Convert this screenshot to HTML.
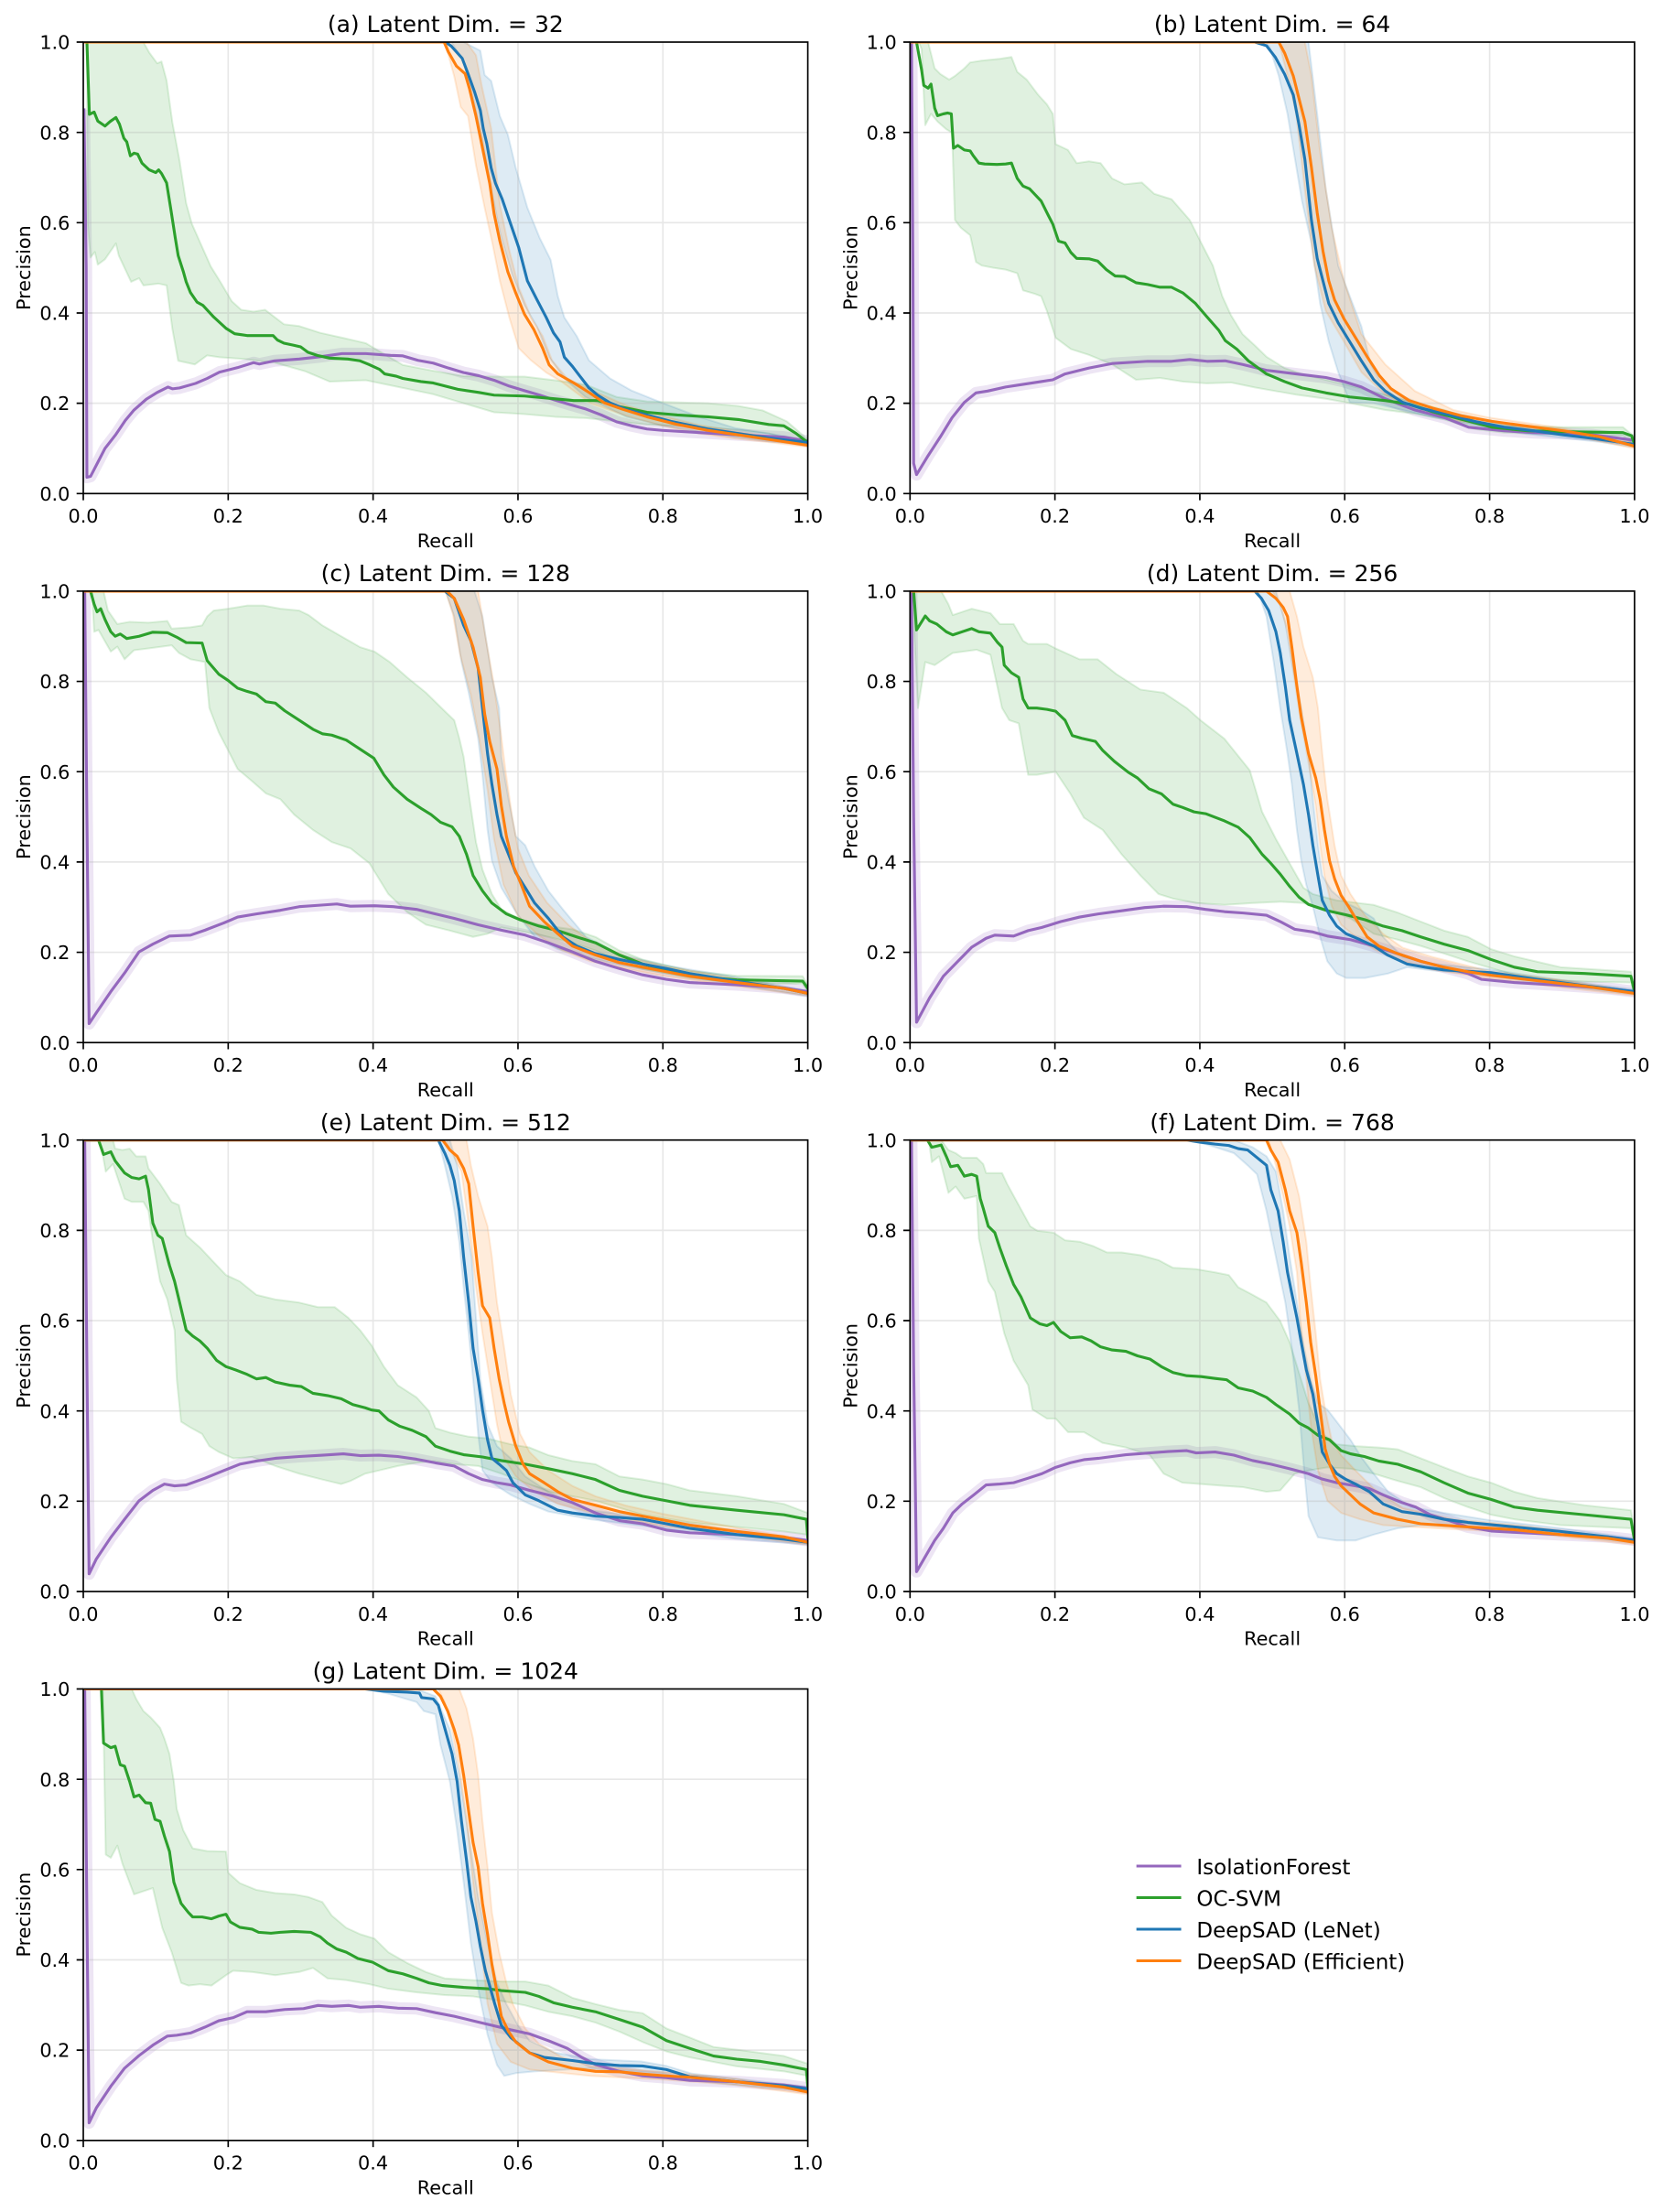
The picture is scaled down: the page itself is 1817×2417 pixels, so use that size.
<!DOCTYPE html>
<html><head><meta charset="utf-8"><style>
html,body{margin:0;padding:0;background:#fff}
svg{display:block}
text{font-family:"DejaVu Sans","Liberation Sans",sans-serif;fill:#000}
.tk{font-size:20.8px}
.tt{font-size:25px}
path{vector-effect:non-scaling-stroke}
.ln{fill:none;stroke-width:3.1px;stroke-linejoin:round;stroke-linecap:square}
.bd{stroke-width:2px;fill-opacity:.15;stroke-opacity:.15;stroke-linejoin:round}
.P{stroke:#9467bd}.G{stroke:#2ca02c}.B{stroke:#1f77b4}.O{stroke:#ff7f0e}
.bG{fill:#2ca02c;stroke:#2ca02c}.bB{fill:#1f77b4;stroke:#1f77b4}.bO{fill:#ff7f0e;stroke:#ff7f0e}
.pb{fill:none;stroke:#9467bd;stroke-opacity:.17;stroke-width:13px;stroke-linejoin:round}
</style></head><body>
<svg width="1817" height="2417" viewBox="0 0 1817 2417" xmlns="http://www.w3.org/2000/svg">
<rect x="0" y="0" width="1817" height="2417" fill="#fff"/>
<defs>
<clipPath id="cp"><rect x="0" y="0" width="791.6" height="493.3"/></clipPath>
<g id="grid" stroke="#b0b0b0" stroke-opacity="0.3" stroke-width="1.67" fill="none">
<path d="M158.32,0V493.3M316.64,0V493.3M474.96,0V493.3M633.28,0V493.3M0,98.66H791.6M0,197.32H791.6M0,295.98H791.6M0,394.64H791.6"/>
</g>
<g id="frame" stroke="#000" stroke-width="1.67" fill="none">
<rect x="0" y="0" width="791.6" height="493.3"/>
<path d="M0,493.3v7.3M158.32,493.3v7.3M316.64,493.3v7.3M474.96,493.3v7.3M633.28,493.3v7.3M791.6,493.3v7.3M0,0h-7.3M0,98.66h-7.3M0,197.32h-7.3M0,295.98h-7.3M0,394.64h-7.3M0,493.3h-7.3"/>
</g>
<path id="pa" vector-effect="non-scaling-stroke" d="M0.001,0.85 L0.004,0.5 0.005,0.036 0.01,0.038 0.02,0.069 0.03,0.1 0.045,0.131 0.058,0.162 0.07,0.185 0.087,0.209 0.102,0.224 0.117,0.236 0.123,0.232 0.133,0.234 0.155,0.244 0.171,0.255 0.188,0.269 0.213,0.279 0.235,0.29 0.243,0.287 0.264,0.294 0.298,0.298 0.327,0.303 0.357,0.31 0.39,0.31 0.424,0.306 0.441,0.305 0.462,0.295 0.483,0.289 0.504,0.278 0.525,0.268 0.546,0.261 0.567,0.251 0.588,0.238 0.609,0.228 0.63,0.218 0.651,0.207 0.672,0.197 0.694,0.187 0.715,0.174 0.736,0.159 0.757,0.15 0.778,0.143 0.799,0.14 0.841,0.136 0.904,0.13 0.967,0.125 1,0.116"/>
<path id="pbp" vector-effect="non-scaling-stroke" d="M0.002,1 L0.004,0.5 0.005,0.067 0.009,0.042 0.025,0.084 0.042,0.126 0.058,0.168 0.075,0.202 0.091,0.223 0.107,0.227 0.132,0.236 0.148,0.24 0.181,0.248 0.197,0.252 0.214,0.265 0.247,0.278 0.279,0.288 0.328,0.293 0.361,0.293 0.386,0.297 0.41,0.293 0.435,0.294 0.459,0.286 0.492,0.273 0.533,0.265 0.574,0.257 0.599,0.248 0.623,0.236 0.656,0.21 0.697,0.185 0.738,0.168 0.771,0.147 0.82,0.139 0.861,0.135 0.902,0.133 0.943,0.13 1,0.118"/>
<path id="pc" vector-effect="non-scaling-stroke" d="M0.002,1 L0.005,0.5 0.008,0.042 0.018,0.066 0.038,0.113 0.057,0.154 0.077,0.201 0.096,0.218 0.119,0.236 0.148,0.238 0.168,0.249 0.194,0.265 0.213,0.278 0.239,0.285 0.272,0.293 0.298,0.301 0.324,0.304 0.35,0.307 0.369,0.302 0.402,0.303 0.428,0.301 0.46,0.295 0.486,0.285 0.512,0.275 0.545,0.261 0.577,0.249 0.61,0.238 0.642,0.221 0.675,0.201 0.707,0.18 0.74,0.164 0.772,0.15 0.805,0.14 0.837,0.133 0.902,0.128 0.967,0.121 1,0.113"/>
<path id="pd" vector-effect="non-scaling-stroke" d="M0.002,1 L0.005,0.5 0.009,0.045 0.027,0.099 0.046,0.147 0.066,0.18 0.085,0.211 0.105,0.231 0.117,0.238 0.143,0.236 0.163,0.248 0.182,0.255 0.208,0.268 0.234,0.278 0.26,0.285 0.292,0.292 0.324,0.299 0.35,0.302 0.382,0.301 0.408,0.295 0.434,0.29 0.46,0.287 0.492,0.282 0.511,0.268 0.531,0.251 0.556,0.245 0.576,0.236 0.608,0.228 0.64,0.214 0.673,0.197 0.705,0.18 0.737,0.167 0.77,0.153 0.789,0.14 0.834,0.133 0.898,0.127 0.963,0.12 1,0.113"/>
<path id="pe" vector-effect="non-scaling-stroke" d="M0.002,1 L0.005,0.5 0.008,0.039 0.018,0.072 0.038,0.12 0.057,0.16 0.077,0.201 0.096,0.224 0.112,0.238 0.126,0.234 0.142,0.236 0.168,0.251 0.194,0.268 0.216,0.282 0.239,0.289 0.265,0.295 0.298,0.299 0.33,0.302 0.359,0.305 0.382,0.301 0.408,0.302 0.434,0.299 0.46,0.293 0.486,0.285 0.512,0.278 0.532,0.261 0.551,0.248 0.571,0.241 0.59,0.236 0.616,0.224 0.649,0.211 0.675,0.197 0.707,0.174 0.74,0.157 0.772,0.15 0.805,0.136 0.837,0.13 0.902,0.126 0.967,0.12 1,0.113"/>
<path id="pf" vector-effect="non-scaling-stroke" d="M0.002,1 L0.005,0.5 0.009,0.044 0.017,0.066 0.034,0.113 0.046,0.14 0.059,0.174 0.072,0.194 0.088,0.214 0.105,0.236 0.124,0.238 0.143,0.241 0.163,0.251 0.182,0.261 0.201,0.275 0.221,0.285 0.24,0.292 0.26,0.295 0.279,0.299 0.298,0.303 0.331,0.307 0.356,0.31 0.382,0.312 0.395,0.307 0.421,0.309 0.447,0.302 0.473,0.29 0.498,0.282 0.524,0.272 0.55,0.261 0.569,0.249 0.589,0.241 0.615,0.234 0.634,0.228 0.653,0.214 0.679,0.197 0.698,0.187 0.718,0.17 0.744,0.157 0.77,0.143 0.802,0.134 0.834,0.131 0.898,0.126 0.963,0.121 1,0.114"/>
<path id="pg" vector-effect="non-scaling-stroke" d="M0.002,1 L0.005,0.5 0.008,0.039 0.018,0.072 0.038,0.12 0.057,0.16 0.077,0.188 0.096,0.211 0.116,0.231 0.129,0.233 0.148,0.238 0.168,0.251 0.187,0.265 0.207,0.272 0.226,0.285 0.252,0.285 0.278,0.29 0.304,0.292 0.324,0.299 0.343,0.297 0.366,0.299 0.382,0.295 0.408,0.297 0.434,0.293 0.46,0.292 0.486,0.283 0.512,0.275 0.538,0.265 0.564,0.255 0.59,0.245 0.616,0.236 0.642,0.221 0.668,0.204 0.688,0.184 0.707,0.168 0.74,0.153 0.772,0.143 0.805,0.139 0.837,0.133 0.902,0.13 0.967,0.123 1,0.116"/>
</defs>

<!-- ===== Panel a ===== -->
<g transform="translate(91,46)">
<g clip-path="url(#cp)">
<g transform="matrix(791.6,0,0,-493.3,0,493.3)">
<use href="#pa" class="pb"/>
<path class="bd bG" d="M0.005,1 L0.083,1 0.091,0.977 0.102,0.953 0.108,0.957 0.115,0.915 0.123,0.822 0.133,0.736 0.142,0.643 0.15,0.597 0.163,0.55 0.176,0.503 0.188,0.472 0.205,0.426 0.218,0.407 0.235,0.403 0.251,0.407 0.264,0.391 0.277,0.375 0.298,0.371 0.327,0.356 0.361,0.344 0.39,0.333 0.411,0.313 0.441,0.285 0.483,0.272 0.525,0.26 0.567,0.259 0.609,0.259 0.651,0.251 0.694,0.241 0.736,0.214 0.778,0.204 0.862,0.2 0.904,0.194 0.938,0.184 0.971,0.16 1,0.12 L1,0.109 0.946,0.133 0.862,0.147 0.778,0.153 0.736,0.16 0.694,0.167 0.651,0.17 0.609,0.176 0.567,0.18 0.525,0.2 0.483,0.22 0.441,0.234 0.39,0.251 0.34,0.248 0.306,0.271 0.264,0.29 0.222,0.298 0.188,0.302 0.171,0.306 0.154,0.286 0.131,0.294 0.123,0.364 0.115,0.461 0.104,0.465 0.083,0.461 0.077,0.477 0.066,0.469 0.049,0.527 0.045,0.554 0.03,0.519 0.02,0.507 0.016,0.535 0.01,0.523 0.006,0.6 Z"/>
<path class="bd bB" d="M0.5,1 L0.525,1 0.548,0.981 0.554,0.927 0.563,0.914 0.575,0.836 0.586,0.795 0.597,0.721 0.613,0.633 0.63,0.566 0.645,0.518 0.655,0.437 0.664,0.39 0.681,0.349 0.698,0.295 0.727,0.255 0.757,0.228 0.799,0.201 0.85,0.17 0.9,0.145 0.95,0.132 1,0.118 L1,0.108 0.95,0.115 0.9,0.125 0.85,0.137 0.8,0.15 0.75,0.17 0.693,0.214 0.664,0.255 0.643,0.302 0.626,0.37 0.609,0.417 0.592,0.485 0.575,0.579 0.563,0.674 0.55,0.789 0.538,0.876 0.525,0.957 0.508,1 Z"/>
<path class="bd bO" d="M0.498,1 L0.529,1 0.542,0.971 0.55,0.903 0.563,0.809 0.575,0.64 0.588,0.539 0.601,0.457 0.618,0.39 0.634,0.349 0.647,0.295 0.668,0.255 0.7,0.23 0.75,0.195 0.8,0.172 0.85,0.152 0.9,0.138 0.95,0.127 1,0.112 L1,0.103 0.95,0.113 0.9,0.122 0.85,0.133 0.8,0.15 0.75,0.172 0.7,0.2 0.66,0.248 0.639,0.268 0.618,0.295 0.601,0.322 0.588,0.39 0.575,0.471 0.565,0.552 0.554,0.633 0.542,0.727 0.531,0.836 0.521,0.856 0.512,0.924 0.504,0.971 Z"/>
</g>
<use href="#grid"/>
<g transform="matrix(791.6,0,0,-493.3,0,493.3)">
<use href="#pa" class="ln P"/>
<path class="ln G" d="M0,1 L0.005,1 0.0084,0.84 0.015,0.845 0.02,0.825 0.03,0.814 0.037,0.824 0.045,0.833 0.05,0.818 0.056,0.787 0.06,0.779 0.065,0.748 0.07,0.754 0.075,0.752 0.081,0.732 0.091,0.717 0.1,0.711 0.104,0.717 0.108,0.709 0.115,0.688 0.121,0.628 0.127,0.566 0.131,0.527 0.138,0.492 0.142,0.469 0.148,0.445 0.157,0.424 0.165,0.417 0.18,0.391 0.197,0.366 0.209,0.354 0.218,0.352 0.226,0.35 0.256,0.35 0.262,0.35 0.268,0.34 0.277,0.333 0.289,0.329 0.3,0.325 0.31,0.313 0.323,0.306 0.34,0.3 0.365,0.298 0.382,0.294 0.394,0.286 0.409,0.275 0.416,0.265 0.432,0.26 0.441,0.255 0.466,0.248 0.483,0.245 0.517,0.231 0.546,0.224 0.567,0.218 0.609,0.216 0.643,0.211 0.677,0.206 0.71,0.206 0.736,0.194 0.778,0.18 0.82,0.174 0.862,0.17 0.904,0.164 0.946,0.153 0.967,0.15 0.984,0.133 1,0.113"/>
<path class="ln B" d="M0,1 L0.5,1 0.508,0.991 0.523,0.964 0.531,0.93 0.54,0.89 0.548,0.849 0.552,0.809 0.557,0.775 0.563,0.721 0.569,0.687 0.578,0.653 0.588,0.606 0.601,0.545 0.613,0.471 0.626,0.43 0.639,0.39 0.649,0.356 0.658,0.336 0.664,0.302 0.675,0.282 0.685,0.261 0.698,0.234 0.71,0.218 0.727,0.201 0.748,0.187 0.778,0.174 0.811,0.16 0.862,0.143 0.904,0.133 0.946,0.123 1,0.113"/>
<path class="ln O" d="M0,1 L0.498,1 0.504,0.978 0.515,0.947 0.527,0.93 0.533,0.897 0.542,0.836 0.548,0.789 0.554,0.742 0.561,0.687 0.567,0.62 0.575,0.559 0.586,0.491 0.597,0.444 0.609,0.397 0.622,0.363 0.634,0.322 0.643,0.285 0.655,0.265 0.677,0.245 0.698,0.224 0.719,0.201 0.744,0.187 0.778,0.17 0.82,0.153 0.862,0.14 0.904,0.13 0.946,0.12 1,0.107"/>
</g>
</g>
<use href="#frame"/>
<g class="tk" text-anchor="end"><text x="-14.6" y="7.6">1.0</text><text x="-14.6" y="106.3">0.8</text><text x="-14.6" y="204.9">0.6</text><text x="-14.6" y="303.6">0.4</text><text x="-14.6" y="402.2">0.2</text><text x="-14.6" y="500.9">0.0</text></g>
<g class="tk" text-anchor="middle"><text x="0" y="525.1">0.0</text><text x="158.3" y="525.1">0.2</text><text x="316.6" y="525.1">0.4</text><text x="475" y="525.1">0.6</text><text x="633.3" y="525.1">0.8</text><text x="791.6" y="525.1">1.0</text>
<text x="395.8" y="551.9">Recall</text><text transform="translate(-58,246.65) rotate(-90)">Precision</text></g>
<text class="tt" x="395.8" y="-10.8" text-anchor="middle">(a) Latent Dim. = 32</text>
</g>

<!-- ===== Panel b ===== -->
<g transform="translate(994.3,46)">
<g clip-path="url(#cp)">
<g transform="matrix(791.6,0,0,-493.3,0,493.3)">
<use href="#pbp" class="pb"/>
<path class="bd bG" d="M0.009,1 L0.025,1 0.034,0.942 0.042,0.929 0.054,0.917 0.062,0.925 0.075,0.942 0.083,0.955 0.099,0.959 0.124,0.963 0.14,0.967 0.148,0.934 0.161,0.917 0.177,0.883 0.189,0.862 0.197,0.841 0.201,0.774 0.218,0.761 0.23,0.732 0.247,0.736 0.263,0.732 0.279,0.698 0.296,0.685 0.32,0.689 0.337,0.664 0.361,0.652 0.386,0.606 0.402,0.555 0.418,0.505 0.431,0.437 0.443,0.395 0.459,0.353 0.476,0.328 0.492,0.303 0.517,0.278 0.541,0.265 0.574,0.252 0.615,0.236 0.656,0.219 0.697,0.202 0.738,0.185 0.779,0.16 0.82,0.151 0.902,0.147 0.984,0.147 1,0.126 L1,0.105 0.984,0.128 0.902,0.13 0.82,0.135 0.779,0.143 0.738,0.164 0.697,0.177 0.656,0.185 0.615,0.198 0.574,0.21 0.533,0.219 0.476,0.235 0.443,0.246 0.41,0.244 0.377,0.248 0.345,0.256 0.312,0.252 0.279,0.286 0.247,0.307 0.222,0.32 0.201,0.345 0.189,0.404 0.181,0.437 0.173,0.442 0.156,0.45 0.148,0.488 0.132,0.496 0.115,0.5 0.099,0.505 0.091,0.513 0.083,0.572 0.07,0.589 0.062,0.606 0.058,0.799 0.05,0.807 0.038,0.824 0.029,0.841 0.021,0.816 0.016,0.984 0.012,1 Z"/>
<path class="bd bB" d="M0.48,1 L0.55,1 0.562,0.841 0.574,0.673 0.591,0.505 0.607,0.437 0.623,0.37 0.636,0.286 0.648,0.252 0.68,0.215 0.72,0.19 0.78,0.168 0.85,0.147 0.95,0.13 1,0.115 L1,0.103 0.95,0.115 0.85,0.132 0.78,0.152 0.72,0.17 0.68,0.185 0.64,0.2 0.607,0.202 0.591,0.269 0.578,0.336 0.566,0.421 0.554,0.555 0.541,0.648 0.521,0.841 0.509,0.925 0.496,0.99 0.49,1 Z"/>
<path class="bd bO" d="M0.51,1 L0.545,1 0.554,0.925 0.566,0.757 0.582,0.589 0.599,0.471 0.623,0.353 0.656,0.286 0.697,0.227 0.75,0.185 0.8,0.168 0.9,0.145 1,0.112 L1,0.1 0.9,0.132 0.8,0.152 0.75,0.162 0.7,0.185 0.656,0.219 0.623,0.269 0.599,0.336 0.574,0.404 0.558,0.505 0.545,0.673 0.533,0.841 0.521,0.925 0.509,1 Z"/>
</g>
<use href="#grid"/>
<g transform="matrix(791.6,0,0,-493.3,0,493.3)">
<use href="#pbp" class="ln P"/>
<path class="ln G" d="M0,1 L0.009,1 0.016,0.938 0.019,0.904 0.025,0.898 0.029,0.907 0.034,0.854 0.038,0.837 0.046,0.841 0.052,0.843 0.057,0.841 0.06,0.765 0.066,0.771 0.075,0.761 0.083,0.759 0.087,0.749 0.095,0.732 0.103,0.73 0.12,0.729 0.132,0.73 0.14,0.732 0.148,0.698 0.156,0.681 0.165,0.675 0.181,0.648 0.189,0.622 0.197,0.597 0.205,0.559 0.214,0.555 0.222,0.534 0.23,0.521 0.247,0.52 0.259,0.515 0.271,0.496 0.283,0.482 0.296,0.481 0.312,0.467 0.328,0.463 0.345,0.457 0.361,0.457 0.377,0.444 0.394,0.421 0.41,0.391 0.426,0.362 0.435,0.339 0.451,0.32 0.467,0.294 0.492,0.265 0.517,0.248 0.541,0.234 0.574,0.223 0.607,0.214 0.656,0.206 0.689,0.198 0.722,0.181 0.762,0.164 0.803,0.147 0.853,0.139 0.902,0.137 0.943,0.136 0.984,0.135 0.996,0.128 1,0.109"/>
<path class="ln B" d="M0,1 L0.476,1 0.492,0.992 0.504,0.967 0.517,0.929 0.529,0.883 0.537,0.816 0.545,0.74 0.554,0.606 0.562,0.521 0.57,0.471 0.578,0.421 0.591,0.378 0.607,0.336 0.623,0.294 0.64,0.252 0.656,0.227 0.68,0.202 0.705,0.189 0.738,0.177 0.779,0.16 0.82,0.147 0.861,0.139 0.902,0.13 0.943,0.122 1,0.109"/>
<path class="ln O" d="M0,1 L0.509,1 0.517,0.976 0.529,0.925 0.537,0.874 0.545,0.824 0.554,0.723 0.562,0.622 0.57,0.537 0.578,0.471 0.586,0.429 0.599,0.387 0.615,0.345 0.631,0.303 0.648,0.261 0.664,0.232 0.689,0.206 0.722,0.189 0.762,0.172 0.803,0.16 0.844,0.151 0.902,0.139 0.951,0.126 1,0.105"/>
</g>
</g>
<use href="#frame"/>
<g class="tk" text-anchor="end"><text x="-14.6" y="7.6">1.0</text><text x="-14.6" y="106.3">0.8</text><text x="-14.6" y="204.9">0.6</text><text x="-14.6" y="303.6">0.4</text><text x="-14.6" y="402.2">0.2</text><text x="-14.6" y="500.9">0.0</text></g>
<g class="tk" text-anchor="middle"><text x="0" y="525.1">0.0</text><text x="158.3" y="525.1">0.2</text><text x="316.6" y="525.1">0.4</text><text x="475" y="525.1">0.6</text><text x="633.3" y="525.1">0.8</text><text x="791.6" y="525.1">1.0</text>
<text x="395.8" y="551.9">Recall</text><text transform="translate(-58,246.65) rotate(-90)">Precision</text></g>
<text class="tt" x="395.8" y="-10.8" text-anchor="middle">(b) Latent Dim. = 64</text>
</g>

<!-- ===== Panel c ===== -->
<g transform="translate(91,645.9)">
<g clip-path="url(#cp)">
<g transform="matrix(791.6,0,0,-493.3,0,493.3)">
<use href="#pc" class="pb"/>
<path class="bd bG" d="M0.01,1 L0.028,1 0.034,0.957 0.047,0.927 0.064,0.932 0.09,0.93 0.116,0.934 0.122,0.917 0.148,0.92 0.164,0.924 0.171,0.944 0.18,0.957 0.2,0.961 0.226,0.968 0.249,0.968 0.272,0.961 0.298,0.957 0.311,0.947 0.33,0.924 0.356,0.9 0.382,0.876 0.402,0.866 0.423,0.843 0.447,0.809 0.473,0.775 0.499,0.734 0.512,0.714 0.519,0.674 0.525,0.633 0.532,0.552 0.542,0.444 0.551,0.383 0.564,0.329 0.577,0.295 0.61,0.268 0.642,0.258 0.675,0.251 0.707,0.234 0.74,0.204 0.772,0.184 0.837,0.159 0.902,0.148 0.993,0.147 1,0.127 L1,0.113 0.993,0.13 0.902,0.133 0.837,0.143 0.772,0.163 0.74,0.18 0.707,0.204 0.675,0.221 0.642,0.234 0.61,0.245 0.577,0.255 0.558,0.241 0.538,0.234 0.506,0.248 0.473,0.261 0.447,0.289 0.421,0.329 0.408,0.363 0.395,0.397 0.369,0.43 0.343,0.444 0.317,0.471 0.291,0.505 0.272,0.539 0.252,0.552 0.233,0.579 0.213,0.606 0.2,0.647 0.187,0.687 0.174,0.741 0.168,0.843 0.148,0.849 0.132,0.863 0.122,0.88 0.09,0.873 0.07,0.869 0.057,0.849 0.047,0.877 0.038,0.866 0.021,0.914 0.015,0.91 0.012,1 Z"/>
<path class="bd bB" d="M0.5,1 L0.54,1 0.551,0.944 0.564,0.809 0.574,0.741 0.577,0.633 0.587,0.539 0.597,0.457 0.61,0.437 0.623,0.39 0.642,0.336 0.662,0.295 0.694,0.234 0.74,0.195 0.8,0.172 0.9,0.145 1,0.115 L1,0.103 0.9,0.128 0.8,0.155 0.74,0.172 0.694,0.19 0.655,0.207 0.623,0.234 0.597,0.289 0.577,0.343 0.564,0.403 0.558,0.471 0.551,0.593 0.545,0.674 0.532,0.775 0.522,0.843 0.512,0.944 Z"/>
<path class="bd bO" d="M0.505,1 L0.545,1 0.555,0.9 0.566,0.8 0.576,0.69 0.583,0.6 0.592,0.5 0.6,0.43 0.615,0.37 0.64,0.31 0.67,0.26 0.7,0.225 0.75,0.19 0.8,0.17 0.9,0.142 1,0.113 L1,0.104 0.9,0.125 0.8,0.148 0.75,0.163 0.7,0.18 0.66,0.205 0.63,0.235 0.6,0.28 0.58,0.35 0.567,0.45 0.558,0.56 0.548,0.66 0.535,0.77 0.52,0.86 0.51,0.95 0.5,1 Z"/>
</g>
<use href="#grid"/>
<g transform="matrix(791.6,0,0,-493.3,0,493.3)">
<use href="#pc" class="ln P"/>
<path class="ln G" d="M0,1 L0.01,1 0.015,0.971 0.019,0.954 0.024,0.961 0.03,0.937 0.038,0.91 0.044,0.9 0.051,0.905 0.06,0.895 0.077,0.9 0.096,0.909 0.116,0.908 0.129,0.898 0.142,0.886 0.164,0.885 0.171,0.846 0.187,0.816 0.2,0.802 0.213,0.785 0.226,0.778 0.239,0.772 0.252,0.755 0.265,0.752 0.278,0.735 0.298,0.714 0.317,0.694 0.33,0.684 0.343,0.681 0.363,0.67 0.382,0.65 0.401,0.63 0.415,0.593 0.428,0.566 0.447,0.539 0.467,0.518 0.48,0.505 0.493,0.488 0.509,0.478 0.519,0.457 0.529,0.417 0.538,0.37 0.551,0.336 0.564,0.309 0.584,0.285 0.603,0.272 0.629,0.258 0.655,0.248 0.681,0.234 0.707,0.221 0.74,0.194 0.772,0.174 0.805,0.161 0.837,0.15 0.87,0.143 0.902,0.139 0.935,0.138 0.993,0.136 1,0.12"/>
<path class="ln B" d="M0,1 L0.499,1 0.512,0.984 0.525,0.924 0.535,0.89 0.545,0.829 0.551,0.741 0.558,0.64 0.564,0.572 0.571,0.505 0.577,0.457 0.587,0.417 0.597,0.376 0.61,0.343 0.623,0.309 0.642,0.275 0.662,0.234 0.681,0.214 0.707,0.197 0.74,0.184 0.772,0.174 0.805,0.164 0.837,0.153 0.902,0.136 0.967,0.12 1,0.109"/>
<path class="ln O" d="M0,1 L0.502,1 0.512,0.984 0.525,0.937 0.538,0.876 0.548,0.809 0.554,0.728 0.561,0.667 0.571,0.606 0.577,0.525 0.584,0.457 0.594,0.39 0.603,0.356 0.616,0.302 0.636,0.268 0.655,0.241 0.675,0.214 0.707,0.194 0.74,0.177 0.772,0.167 0.805,0.157 0.837,0.147 0.902,0.133 0.967,0.12 1,0.109"/>
</g>
</g>
<use href="#frame"/>
<g class="tk" text-anchor="end"><text x="-14.6" y="7.6">1.0</text><text x="-14.6" y="106.3">0.8</text><text x="-14.6" y="204.9">0.6</text><text x="-14.6" y="303.6">0.4</text><text x="-14.6" y="402.2">0.2</text><text x="-14.6" y="500.9">0.0</text></g>
<g class="tk" text-anchor="middle"><text x="0" y="525.1">0.0</text><text x="158.3" y="525.1">0.2</text><text x="316.6" y="525.1">0.4</text><text x="475" y="525.1">0.6</text><text x="633.3" y="525.1">0.8</text><text x="791.6" y="525.1">1.0</text>
<text x="395.8" y="551.9">Recall</text><text transform="translate(-58,246.65) rotate(-90)">Precision</text></g>
<text class="tt" x="395.8" y="-10.8" text-anchor="middle">(c) Latent Dim. = 128</text>
</g>

<!-- ===== Panel d ===== -->
<g transform="translate(994.3,645.9)">
<g clip-path="url(#cp)">
<g transform="matrix(791.6,0,0,-493.3,0,493.3)">
<use href="#pd" class="pb"/>
<path class="bd bG" d="M0.005,1 L0.043,1 0.053,0.971 0.059,0.947 0.085,0.961 0.111,0.951 0.124,0.927 0.143,0.927 0.156,0.89 0.163,0.883 0.189,0.883 0.201,0.873 0.234,0.849 0.259,0.849 0.285,0.816 0.318,0.782 0.35,0.775 0.382,0.741 0.401,0.714 0.434,0.673 0.469,0.603 0.486,0.511 0.505,0.451 0.524,0.397 0.543,0.343 0.556,0.329 0.589,0.315 0.64,0.305 0.673,0.288 0.705,0.268 0.737,0.248 0.77,0.234 0.802,0.207 0.834,0.191 0.898,0.167 0.995,0.157 1,0.126 L1,0.106 0.995,0.133 0.898,0.136 0.834,0.15 0.77,0.18 0.705,0.214 0.673,0.228 0.64,0.241 0.608,0.275 0.576,0.295 0.543,0.309 0.511,0.312 0.473,0.309 0.434,0.305 0.395,0.309 0.363,0.319 0.343,0.329 0.318,0.37 0.292,0.417 0.266,0.471 0.24,0.498 0.221,0.552 0.201,0.6 0.175,0.593 0.163,0.593 0.15,0.707 0.137,0.714 0.127,0.741 0.111,0.859 0.092,0.87 0.059,0.863 0.034,0.836 0.021,0.843 0.011,0.741 0.006,0.9 Z"/>
<path class="bd bB" d="M0.48,1 L0.505,1 0.518,0.93 0.527,0.843 0.54,0.741 0.55,0.64 0.556,0.539 0.563,0.437 0.569,0.37 0.582,0.336 0.602,0.309 0.621,0.295 0.64,0.275 0.653,0.234 0.68,0.19 0.72,0.175 0.8,0.162 0.9,0.138 1,0.118 L1,0.107 0.9,0.125 0.8,0.148 0.72,0.16 0.686,0.167 0.66,0.153 0.628,0.143 0.602,0.143 0.589,0.153 0.576,0.18 0.566,0.234 0.556,0.302 0.547,0.349 0.54,0.403 0.534,0.471 0.527,0.572 0.521,0.64 0.511,0.741 0.502,0.843 0.492,0.944 Z"/>
<path class="bd bO" d="M0.495,1 L0.524,1 0.534,0.944 0.543,0.876 0.556,0.809 0.563,0.741 0.569,0.64 0.576,0.539 0.586,0.437 0.595,0.37 0.608,0.329 0.628,0.282 0.653,0.241 0.68,0.21 0.72,0.19 0.8,0.158 0.9,0.138 1,0.114 L1,0.104 0.9,0.122 0.8,0.142 0.72,0.162 0.68,0.18 0.64,0.207 0.615,0.234 0.595,0.261 0.582,0.302 0.572,0.37 0.566,0.437 0.56,0.525 0.55,0.619 0.54,0.707 0.53,0.809 0.521,0.91 0.511,0.971 0.5,1 Z"/>
</g>
<use href="#grid"/>
<g transform="matrix(791.6,0,0,-493.3,0,493.3)">
<use href="#pd" class="ln P"/>
<path class="ln G" d="M0,1 L0.005,1 0.009,0.914 0.021,0.945 0.027,0.934 0.037,0.927 0.05,0.91 0.059,0.903 0.072,0.91 0.085,0.917 0.095,0.91 0.111,0.907 0.121,0.886 0.127,0.876 0.13,0.836 0.14,0.819 0.15,0.809 0.156,0.761 0.163,0.741 0.175,0.741 0.189,0.738 0.201,0.734 0.214,0.714 0.224,0.68 0.237,0.674 0.256,0.667 0.266,0.647 0.282,0.623 0.301,0.599 0.314,0.586 0.33,0.562 0.347,0.551 0.363,0.528 0.376,0.521 0.392,0.511 0.408,0.507 0.434,0.491 0.453,0.477 0.469,0.454 0.486,0.417 0.498,0.397 0.511,0.373 0.524,0.346 0.537,0.322 0.55,0.306 0.576,0.292 0.602,0.283 0.628,0.272 0.653,0.258 0.679,0.248 0.705,0.234 0.737,0.218 0.77,0.204 0.802,0.184 0.834,0.167 0.866,0.157 0.931,0.153 0.995,0.147 1,0.113"/>
<path class="ln B" d="M0,1 L0.476,1 0.485,0.984 0.495,0.957 0.505,0.91 0.511,0.863 0.518,0.789 0.524,0.714 0.534,0.64 0.543,0.572 0.55,0.505 0.556,0.437 0.563,0.37 0.569,0.315 0.579,0.282 0.589,0.258 0.602,0.241 0.621,0.228 0.64,0.214 0.659,0.194 0.686,0.174 0.711,0.167 0.737,0.161 0.802,0.155 0.866,0.14 0.931,0.126 1,0.113"/>
<path class="ln O" d="M0,1 L0.492,1 0.505,0.984 0.515,0.964 0.521,0.944 0.527,0.876 0.534,0.789 0.54,0.721 0.55,0.64 0.56,0.586 0.566,0.539 0.572,0.471 0.579,0.403 0.586,0.363 0.595,0.326 0.605,0.302 0.615,0.275 0.631,0.234 0.647,0.214 0.673,0.197 0.705,0.18 0.737,0.167 0.77,0.157 0.802,0.149 0.866,0.137 0.931,0.125 1,0.109"/>
</g>
</g>
<use href="#frame"/>
<g class="tk" text-anchor="end"><text x="-14.6" y="7.6">1.0</text><text x="-14.6" y="106.3">0.8</text><text x="-14.6" y="204.9">0.6</text><text x="-14.6" y="303.6">0.4</text><text x="-14.6" y="402.2">0.2</text><text x="-14.6" y="500.9">0.0</text></g>
<g class="tk" text-anchor="middle"><text x="0" y="525.1">0.0</text><text x="158.3" y="525.1">0.2</text><text x="316.6" y="525.1">0.4</text><text x="475" y="525.1">0.6</text><text x="633.3" y="525.1">0.8</text><text x="791.6" y="525.1">1.0</text>
<text x="395.8" y="551.9">Recall</text><text transform="translate(-58,246.65) rotate(-90)">Precision</text></g>
<text class="tt" x="395.8" y="-10.8" text-anchor="middle">(d) Latent Dim. = 256</text>
</g>

<!-- ===== Panel e ===== -->
<g transform="translate(91,1245.7)">
<g clip-path="url(#cp)">
<g transform="matrix(791.6,0,0,-493.3,0,493.3)">
<use href="#pe" class="pb"/>
<path class="bd bG" d="M0.021,1 L0.041,1 0.044,0.981 0.054,0.978 0.064,0.981 0.073,0.964 0.086,0.964 0.09,0.937 0.106,0.903 0.122,0.863 0.132,0.856 0.142,0.789 0.161,0.762 0.181,0.728 0.197,0.701 0.216,0.687 0.239,0.657 0.265,0.647 0.298,0.64 0.324,0.63 0.347,0.63 0.366,0.606 0.382,0.579 0.398,0.545 0.415,0.498 0.434,0.457 0.46,0.43 0.477,0.4 0.486,0.362 0.506,0.352 0.532,0.343 0.558,0.339 0.59,0.326 0.616,0.319 0.642,0.302 0.675,0.289 0.707,0.282 0.74,0.255 0.772,0.248 0.805,0.238 0.837,0.224 0.902,0.211 0.967,0.194 1,0.174 L1,0.126 0.967,0.133 0.902,0.143 0.837,0.153 0.772,0.17 0.707,0.201 0.675,0.211 0.642,0.221 0.61,0.241 0.577,0.261 0.545,0.278 0.512,0.282 0.486,0.289 0.46,0.285 0.434,0.278 0.408,0.268 0.389,0.261 0.369,0.245 0.356,0.238 0.33,0.248 0.298,0.261 0.265,0.278 0.233,0.298 0.207,0.295 0.187,0.309 0.174,0.322 0.164,0.349 0.148,0.363 0.135,0.376 0.129,0.471 0.126,0.579 0.116,0.647 0.106,0.687 0.096,0.775 0.09,0.843 0.083,0.863 0.067,0.863 0.057,0.87 0.041,0.947 0.031,0.93 0.025,0.984 0.022,1 Z"/>
<path class="bd bB" d="M0.49,1 L0.506,1 0.516,0.944 0.525,0.843 0.536,0.741 0.542,0.606 0.548,0.471 0.558,0.37 0.571,0.322 0.59,0.295 0.61,0.255 0.642,0.221 0.7,0.18 0.8,0.16 0.9,0.135 1,0.114 L1,0.104 0.9,0.117 0.8,0.14 0.7,0.16 0.642,0.177 0.616,0.194 0.59,0.214 0.564,0.241 0.551,0.268 0.545,0.349 0.542,0.403 0.538,0.471 0.532,0.572 0.525,0.674 0.519,0.775 0.509,0.876 0.499,0.944 Z"/>
<path class="bd bO" d="M0.5,1 L0.529,1 0.535,0.944 0.545,0.876 0.558,0.809 0.564,0.741 0.571,0.64 0.581,0.539 0.59,0.437 0.603,0.349 0.616,0.309 0.642,0.268 0.675,0.234 0.707,0.211 0.75,0.19 0.8,0.172 0.9,0.142 1,0.114 L1,0.104 0.9,0.125 0.8,0.145 0.75,0.16 0.7,0.175 0.655,0.194 0.623,0.221 0.597,0.255 0.581,0.295 0.571,0.37 0.561,0.471 0.551,0.572 0.542,0.674 0.532,0.809 0.522,0.93 0.509,0.971 Z"/>
</g>
<use href="#grid"/>
<g transform="matrix(791.6,0,0,-493.3,0,493.3)">
<use href="#pe" class="ln P"/>
<path class="ln G" d="M0,1 L0.021,1 0.028,0.968 0.038,0.974 0.044,0.954 0.057,0.927 0.067,0.917 0.077,0.914 0.086,0.92 0.09,0.89 0.096,0.816 0.103,0.789 0.109,0.782 0.119,0.722 0.126,0.687 0.132,0.647 0.142,0.579 0.151,0.566 0.161,0.555 0.171,0.539 0.184,0.512 0.197,0.498 0.21,0.491 0.226,0.481 0.239,0.471 0.252,0.474 0.265,0.464 0.285,0.457 0.301,0.454 0.317,0.439 0.337,0.434 0.356,0.427 0.372,0.414 0.389,0.407 0.398,0.402 0.408,0.4 0.421,0.38 0.437,0.366 0.454,0.357 0.473,0.343 0.486,0.322 0.506,0.311 0.525,0.303 0.551,0.298 0.577,0.29 0.61,0.282 0.642,0.272 0.675,0.261 0.707,0.248 0.74,0.224 0.772,0.211 0.805,0.201 0.837,0.191 0.902,0.18 0.967,0.17 0.998,0.16 1,0.12"/>
<path class="ln B" d="M0,1 L0.49,1 0.499,0.971 0.506,0.944 0.512,0.91 0.519,0.843 0.525,0.741 0.532,0.64 0.538,0.539 0.545,0.471 0.551,0.403 0.558,0.336 0.564,0.295 0.574,0.282 0.584,0.268 0.593,0.241 0.61,0.214 0.629,0.201 0.655,0.18 0.675,0.174 0.707,0.167 0.74,0.164 0.772,0.16 0.805,0.15 0.837,0.14 0.902,0.126 0.967,0.116 1,0.109"/>
<path class="ln O" d="M0,1 L0.496,1 0.506,0.978 0.516,0.964 0.525,0.937 0.532,0.903 0.538,0.809 0.545,0.707 0.551,0.633 0.561,0.606 0.567,0.539 0.574,0.471 0.581,0.417 0.587,0.376 0.597,0.322 0.607,0.282 0.616,0.261 0.636,0.241 0.655,0.221 0.675,0.204 0.707,0.191 0.74,0.177 0.772,0.167 0.805,0.157 0.837,0.147 0.902,0.133 0.967,0.121 1,0.109"/>
</g>
</g>
<use href="#frame"/>
<g class="tk" text-anchor="end"><text x="-14.6" y="7.6">1.0</text><text x="-14.6" y="106.3">0.8</text><text x="-14.6" y="204.9">0.6</text><text x="-14.6" y="303.6">0.4</text><text x="-14.6" y="402.2">0.2</text><text x="-14.6" y="500.9">0.0</text></g>
<g class="tk" text-anchor="middle"><text x="0" y="525.1">0.0</text><text x="158.3" y="525.1">0.2</text><text x="316.6" y="525.1">0.4</text><text x="475" y="525.1">0.6</text><text x="633.3" y="525.1">0.8</text><text x="791.6" y="525.1">1.0</text>
<text x="395.8" y="551.9">Recall</text><text transform="translate(-58,246.65) rotate(-90)">Precision</text></g>
<text class="tt" x="395.8" y="-10.8" text-anchor="middle">(e) Latent Dim. = 512</text>
</g>

<!-- ===== Panel f ===== -->
<g transform="translate(994.3,1245.7)">
<g clip-path="url(#cp)">
<g transform="matrix(791.6,0,0,-493.3,0,493.3)">
<use href="#pf" class="pb"/>
<path class="bd bG" d="M0.024,1 L0.043,1 0.053,0.978 0.063,0.971 0.072,0.961 0.092,0.961 0.101,0.947 0.105,0.927 0.127,0.927 0.134,0.903 0.15,0.856 0.166,0.809 0.176,0.799 0.198,0.795 0.214,0.778 0.234,0.775 0.253,0.765 0.272,0.751 0.292,0.751 0.318,0.745 0.343,0.734 0.363,0.717 0.395,0.714 0.421,0.707 0.44,0.701 0.453,0.674 0.473,0.657 0.492,0.64 0.511,0.599 0.524,0.552 0.537,0.484 0.55,0.417 0.569,0.349 0.589,0.326 0.615,0.322 0.647,0.319 0.673,0.315 0.705,0.295 0.737,0.275 0.77,0.255 0.802,0.241 0.834,0.221 0.866,0.207 0.931,0.191 0.995,0.18 1,0.133 L1,0.113 0.995,0.14 0.898,0.147 0.834,0.16 0.802,0.17 0.77,0.187 0.737,0.207 0.705,0.231 0.673,0.245 0.64,0.261 0.608,0.272 0.576,0.275 0.55,0.268 0.531,0.261 0.511,0.224 0.492,0.221 0.46,0.231 0.434,0.234 0.402,0.238 0.376,0.241 0.35,0.261 0.331,0.302 0.298,0.319 0.266,0.329 0.24,0.353 0.218,0.353 0.201,0.383 0.189,0.383 0.169,0.403 0.163,0.457 0.143,0.511 0.13,0.572 0.117,0.664 0.108,0.687 0.095,0.782 0.092,0.876 0.075,0.87 0.063,0.897 0.053,0.883 0.04,0.964 0.03,0.951 0.026,1 Z"/>
<path class="bd bB" d="M0.38,1 L0.447,1 0.473,0.984 0.492,0.964 0.505,0.93 0.515,0.843 0.524,0.741 0.534,0.64 0.544,0.539 0.553,0.471 0.563,0.417 0.576,0.403 0.589,0.376 0.608,0.336 0.624,0.295 0.64,0.261 0.66,0.221 0.692,0.187 0.737,0.174 0.8,0.158 0.9,0.14 1,0.118 L1,0.108 0.9,0.125 0.8,0.138 0.705,0.147 0.673,0.14 0.64,0.126 0.615,0.113 0.589,0.113 0.563,0.12 0.55,0.167 0.544,0.268 0.537,0.403 0.527,0.539 0.518,0.64 0.505,0.741 0.492,0.843 0.479,0.924 0.466,0.944 0.447,0.971 0.408,0.991 Z"/>
<path class="bd bO" d="M0.495,1 L0.511,1 0.524,0.957 0.537,0.876 0.547,0.775 0.553,0.674 0.56,0.572 0.566,0.471 0.573,0.403 0.582,0.336 0.595,0.302 0.615,0.268 0.64,0.228 0.68,0.185 0.75,0.16 0.85,0.145 1,0.114 L1,0.104 0.85,0.13 0.75,0.138 0.653,0.147 0.621,0.16 0.595,0.174 0.576,0.201 0.563,0.268 0.553,0.37 0.547,0.471 0.54,0.572 0.534,0.707 0.524,0.809 0.515,0.876 0.505,0.944 Z"/>
</g>
<use href="#grid"/>
<g transform="matrix(791.6,0,0,-493.3,0,493.3)">
<use href="#pf" class="ln P"/>
<path class="ln G" d="M0,1 L0.024,1 0.03,0.984 0.043,0.989 0.05,0.964 0.056,0.941 0.066,0.944 0.075,0.92 0.085,0.924 0.092,0.92 0.097,0.87 0.101,0.849 0.108,0.809 0.117,0.795 0.124,0.761 0.133,0.721 0.143,0.68 0.153,0.653 0.166,0.606 0.179,0.593 0.189,0.589 0.198,0.596 0.208,0.576 0.221,0.562 0.237,0.564 0.25,0.555 0.263,0.542 0.279,0.535 0.298,0.532 0.314,0.522 0.331,0.515 0.347,0.498 0.363,0.485 0.382,0.478 0.402,0.476 0.421,0.472 0.437,0.469 0.453,0.451 0.473,0.444 0.492,0.43 0.505,0.414 0.524,0.393 0.537,0.373 0.55,0.362 0.563,0.346 0.579,0.336 0.595,0.312 0.608,0.305 0.627,0.299 0.647,0.289 0.673,0.282 0.705,0.265 0.737,0.241 0.77,0.218 0.802,0.204 0.834,0.187 0.866,0.18 0.931,0.17 0.995,0.16 1,0.113"/>
<path class="ln B" d="M0,1 L0.382,1 0.402,0.995 0.421,0.991 0.44,0.988 0.453,0.981 0.466,0.978 0.479,0.961 0.492,0.944 0.498,0.89 0.508,0.843 0.515,0.775 0.521,0.707 0.527,0.66 0.534,0.606 0.54,0.552 0.547,0.491 0.556,0.437 0.563,0.37 0.569,0.309 0.579,0.282 0.589,0.261 0.602,0.248 0.615,0.238 0.634,0.221 0.653,0.194 0.679,0.177 0.705,0.171 0.737,0.16 0.77,0.153 0.834,0.143 0.898,0.133 0.963,0.121 1,0.113"/>
<path class="ln O" d="M0,1 L0.492,1 0.498,0.978 0.508,0.951 0.518,0.89 0.524,0.843 0.534,0.795 0.54,0.728 0.547,0.64 0.553,0.552 0.56,0.478 0.566,0.403 0.573,0.316 0.579,0.282 0.586,0.255 0.595,0.234 0.608,0.214 0.621,0.194 0.64,0.174 0.673,0.16 0.705,0.15 0.77,0.143 0.834,0.137 0.898,0.126 0.963,0.118 1,0.109"/>
</g>
</g>
<use href="#frame"/>
<g class="tk" text-anchor="end"><text x="-14.6" y="7.6">1.0</text><text x="-14.6" y="106.3">0.8</text><text x="-14.6" y="204.9">0.6</text><text x="-14.6" y="303.6">0.4</text><text x="-14.6" y="402.2">0.2</text><text x="-14.6" y="500.9">0.0</text></g>
<g class="tk" text-anchor="middle"><text x="0" y="525.1">0.0</text><text x="158.3" y="525.1">0.2</text><text x="316.6" y="525.1">0.4</text><text x="475" y="525.1">0.6</text><text x="633.3" y="525.1">0.8</text><text x="791.6" y="525.1">1.0</text>
<text x="395.8" y="551.9">Recall</text><text transform="translate(-58,246.65) rotate(-90)">Precision</text></g>
<text class="tt" x="395.8" y="-10.8" text-anchor="middle">(f) Latent Dim. = 768</text>
</g>

<!-- ===== Panel g ===== -->
<g transform="translate(91,1845.5)">
<g clip-path="url(#cp)">
<g transform="matrix(791.6,0,0,-493.3,0,493.3)">
<use href="#pg" class="pb"/>
<path class="bd bG" d="M0.025,1 L0.067,1 0.073,0.978 0.083,0.951 0.093,0.937 0.106,0.914 0.112,0.89 0.119,0.856 0.125,0.795 0.129,0.734 0.138,0.687 0.151,0.647 0.171,0.641 0.197,0.64 0.2,0.593 0.216,0.57 0.239,0.555 0.265,0.548 0.291,0.545 0.311,0.539 0.33,0.528 0.343,0.498 0.363,0.471 0.382,0.457 0.402,0.447 0.421,0.417 0.447,0.393 0.473,0.373 0.499,0.359 0.538,0.355 0.577,0.352 0.61,0.352 0.642,0.343 0.675,0.316 0.707,0.302 0.74,0.289 0.772,0.282 0.805,0.248 0.837,0.228 0.87,0.207 0.902,0.201 0.967,0.187 1,0.17 L1,0.143 0.967,0.153 0.902,0.164 0.837,0.184 0.805,0.197 0.772,0.218 0.74,0.241 0.707,0.261 0.675,0.275 0.642,0.285 0.61,0.299 0.577,0.309 0.538,0.319 0.499,0.322 0.46,0.328 0.421,0.336 0.395,0.346 0.363,0.355 0.337,0.359 0.317,0.382 0.298,0.373 0.265,0.366 0.233,0.373 0.207,0.376 0.197,0.366 0.177,0.343 0.161,0.346 0.145,0.343 0.135,0.349 0.122,0.417 0.109,0.471 0.096,0.559 0.07,0.545 0.054,0.613 0.047,0.653 0.038,0.626 0.031,0.633 0.027,1 Z"/>
<path class="bd bB" d="M0.39,1 L0.46,1 0.486,0.984 0.506,0.91 0.519,0.809 0.532,0.674 0.545,0.539 0.558,0.437 0.571,0.349 0.584,0.302 0.6,0.255 0.616,0.221 0.65,0.195 0.7,0.18 0.77,0.175 0.805,0.165 0.84,0.148 0.9,0.137 1,0.119 L1,0.109 0.9,0.123 0.84,0.133 0.8,0.148 0.7,0.16 0.623,0.153 0.597,0.149 0.581,0.143 0.571,0.167 0.558,0.234 0.545,0.336 0.535,0.437 0.525,0.572 0.516,0.687 0.506,0.795 0.493,0.876 0.486,0.944 0.47,0.951 0.46,0.971 0.42,0.99 Z"/>
<path class="bd bO" d="M0.49,1 L0.519,1 0.529,0.957 0.538,0.89 0.545,0.809 0.551,0.707 0.558,0.606 0.564,0.505 0.574,0.417 0.584,0.349 0.593,0.302 0.61,0.248 0.629,0.214 0.66,0.185 0.7,0.165 0.8,0.152 0.9,0.137 1,0.112 L1,0.102 0.9,0.123 0.8,0.135 0.7,0.143 0.616,0.157 0.59,0.174 0.571,0.214 0.558,0.302 0.548,0.437 0.538,0.572 0.529,0.707 0.519,0.822 0.509,0.91 0.499,0.971 Z"/>
</g>
<use href="#grid"/>
<g transform="matrix(791.6,0,0,-493.3,0,493.3)">
<use href="#pg" class="ln P"/>
<path class="ln G" d="M0,1 L0.025,1 0.028,0.88 0.038,0.87 0.044,0.873 0.051,0.832 0.057,0.829 0.064,0.795 0.07,0.761 0.077,0.765 0.086,0.748 0.093,0.747 0.099,0.711 0.106,0.707 0.112,0.674 0.119,0.64 0.125,0.572 0.135,0.525 0.145,0.505 0.151,0.495 0.164,0.495 0.177,0.491 0.187,0.497 0.197,0.501 0.203,0.484 0.216,0.472 0.233,0.468 0.242,0.461 0.259,0.459 0.272,0.461 0.291,0.463 0.314,0.461 0.327,0.451 0.337,0.437 0.35,0.424 0.363,0.417 0.379,0.403 0.399,0.395 0.421,0.376 0.441,0.369 0.46,0.359 0.477,0.349 0.496,0.343 0.525,0.339 0.558,0.336 0.577,0.332 0.61,0.328 0.629,0.319 0.649,0.305 0.675,0.295 0.707,0.285 0.74,0.268 0.772,0.251 0.805,0.221 0.837,0.204 0.87,0.187 0.902,0.18 0.935,0.175 0.967,0.167 0.998,0.157 1,0.12"/>
<path class="ln B" d="M0,1 L0.389,1 0.415,0.995 0.447,0.993 0.464,0.991 0.467,0.981 0.483,0.978 0.49,0.964 0.496,0.93 0.503,0.89 0.509,0.856 0.516,0.795 0.522,0.707 0.529,0.62 0.535,0.539 0.542,0.485 0.548,0.43 0.555,0.376 0.561,0.342 0.568,0.302 0.577,0.255 0.59,0.228 0.603,0.211 0.616,0.194 0.636,0.184 0.675,0.177 0.707,0.17 0.74,0.166 0.772,0.165 0.805,0.157 0.837,0.141 0.902,0.13 0.967,0.121 1,0.114"/>
<path class="ln O" d="M0,1 L0.483,1 0.493,0.984 0.503,0.951 0.512,0.91 0.518,0.876 0.525,0.809 0.532,0.728 0.538,0.66 0.545,0.606 0.551,0.525 0.558,0.457 0.564,0.39 0.571,0.329 0.577,0.275 0.587,0.241 0.597,0.218 0.616,0.194 0.642,0.174 0.675,0.16 0.707,0.153 0.74,0.152 0.772,0.147 0.805,0.143 0.837,0.14 0.902,0.13 0.967,0.118 1,0.107"/>
</g>
</g>
<use href="#frame"/>
<g class="tk" text-anchor="end"><text x="-14.6" y="7.6">1.0</text><text x="-14.6" y="106.3">0.8</text><text x="-14.6" y="204.9">0.6</text><text x="-14.6" y="303.6">0.4</text><text x="-14.6" y="402.2">0.2</text><text x="-14.6" y="500.9">0.0</text></g>
<g class="tk" text-anchor="middle"><text x="0" y="525.1">0.0</text><text x="158.3" y="525.1">0.2</text><text x="316.6" y="525.1">0.4</text><text x="475" y="525.1">0.6</text><text x="633.3" y="525.1">0.8</text><text x="791.6" y="525.1">1.0</text>
<text x="395.8" y="551.9">Recall</text><text transform="translate(-58,246.65) rotate(-90)">Precision</text></g>
<text class="tt" x="395.8" y="-10.8" text-anchor="middle">(g) Latent Dim. = 1024</text>
</g>

<!-- ===== Legend ===== -->
<g stroke-width="3.1" stroke-linecap="square" fill="none">
<path d="M1243.2,2039H1289" stroke="#9467bd"/>
<path d="M1243.2,2073.5H1289" stroke="#2ca02c"/>
<path d="M1243.2,2108H1289" stroke="#1f77b4"/>
<path d="M1243.2,2142.5H1289" stroke="#ff7f0e"/>
</g>
<g font-size="23">
<text x="1307.4" y="2047.9">IsolationForest</text>
<text x="1307.4" y="2082.4">OC-SVM</text>
<text x="1307.4" y="2116.9">DeepSAD (LeNet)</text>
<text x="1307.4" y="2151.4">DeepSAD (Efficient)</text>
</g>
</svg>
</body></html>
